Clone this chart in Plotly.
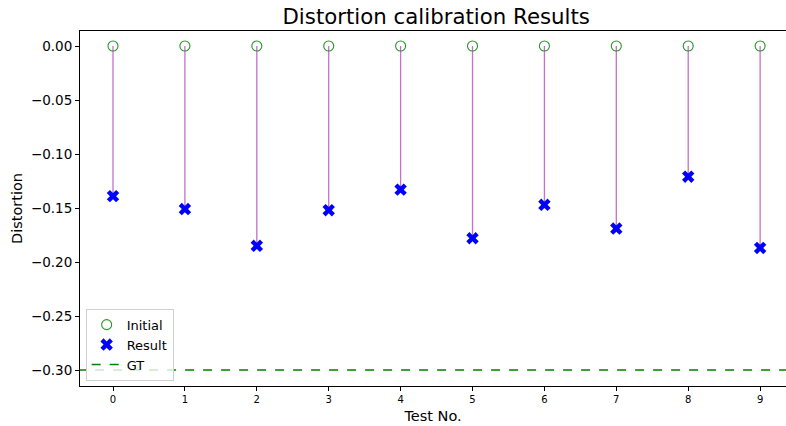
import plotly.graph_objects as go

tests = [0, 1, 2, 3, 4, 5, 6, 7, 8, 9]
initial = [0.0, 0.0, 0.0, 0.0, 0.0, 0.0, 0.0, 0.0, 0.0, 0.0]
result = [-0.139, -0.151, -0.185, -0.152, -0.133, -0.178, -0.147, -0.169, -0.121, -0.187]
gt_value = -0.30
y_ticks = [0.0, -0.05, -0.10, -0.15, -0.20, -0.25, -0.30]

stem_x, stem_y = [], []
for t, a, b in zip(tests, initial, result):
    stem_x += [t, t, None]
    stem_y += [a, b, None]

fig = go.Figure()
fig.add_trace(go.Scatter(x=stem_x, y=stem_y, mode="lines",
                         line=dict(color="#C270CB", width=1.3), showlegend=False, hoverinfo="skip"))
fig.add_trace(go.Scatter(x=tests, y=initial, mode="markers", name="Initial",
                         marker=dict(symbol="circle-open", size=10, color="#2a952a", line=dict(width=1.1))))
fig.add_trace(go.Scatter(x=tests, y=result, mode="markers", name="Result",
                         marker=dict(symbol="x", size=11, color="blue", line=dict(width=0))))
fig.add_trace(go.Scatter(x=[-1, 10.5], y=[gt_value, gt_value], mode="lines", name="GT",
                         line=dict(color="green", width=1.5, dash="dash")))

fig.update_layout(
    width=786, height=426,
    margin=dict(l=80, r=0, t=31, b=40),
    paper_bgcolor="white", plot_bgcolor="white",
    font=dict(family="DejaVu Sans", color="black", size=13),
    title=dict(text="Distortion calibration Results", x=0.555, xanchor="center", y=0.96, yanchor="middle",
               font=dict(size=21.3)),
    showlegend=True,
    legend=dict(x=0.008, y=0.015, xanchor="left", yanchor="bottom",
                bgcolor="rgba(255,255,255,0.8)", bordercolor="#d0d0d0", borderwidth=1,
                font=dict(size=13), tracegroupgap=0, itemwidth=30),
)
fig.update_xaxes(range=[-0.459, 9.36], tickvals=tests, ticktext=[str(t) for t in tests],
                 showgrid=False, zeroline=False, showline=True, linecolor="black", linewidth=1,
                 mirror=True, ticks="outside", ticklen=4, tickcolor="black",
                 tickfont=dict(size=10),
                 title=dict(text="Test No.", font=dict(size=14.5), standoff=6))
fig.update_yaxes(range=[-0.3148, 0.0139], tickvals=y_ticks, tickformat=".2f",
                 showgrid=False, zeroline=False, showline=True, linecolor="black", linewidth=1,
                 ticks="outside", ticklen=4, tickcolor="black",
                 tickfont=dict(size=13.5),
                 title=dict(text="Distortion", font=dict(size=14.5), standoff=4))

fig.write_html("out.html")
